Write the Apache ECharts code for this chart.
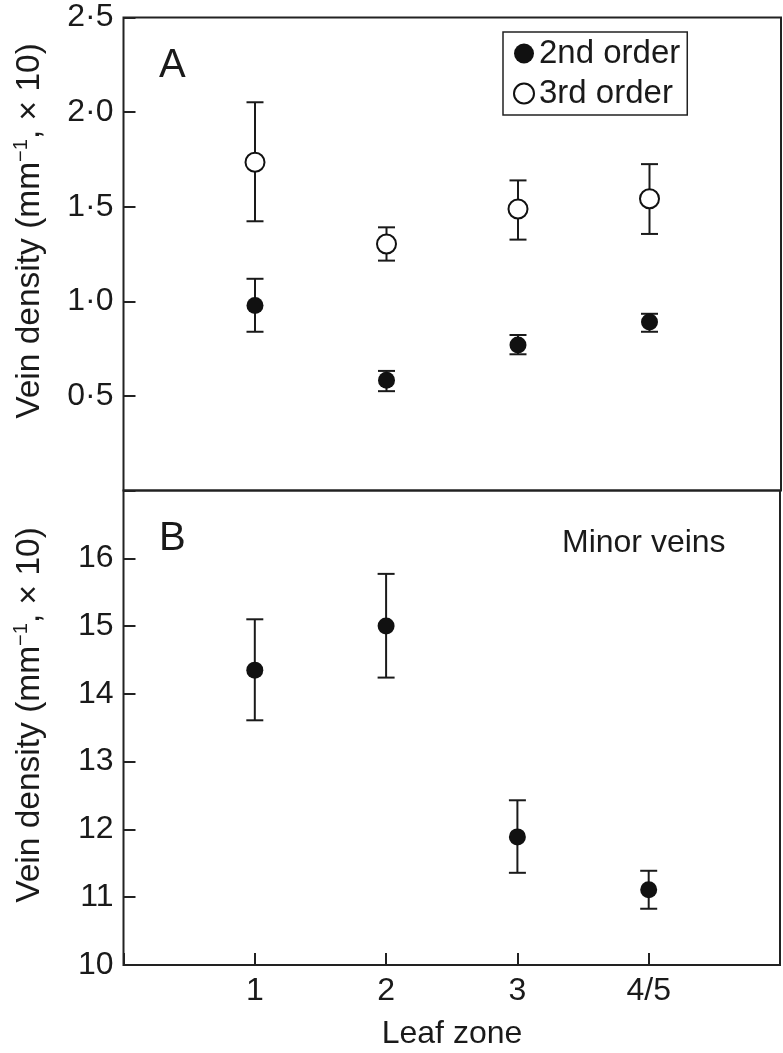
<!DOCTYPE html>
<html><head><meta charset="utf-8">
<script src="https://cdn.jsdelivr.net/npm/echarts@6/dist/echarts.min.js"></script>
<style>html,body{margin:0;padding:0;background:#fff}#c{width:783px;height:1053px}</style>
</head><body><div id="c"></div>
<script>
// ---- data ----
const zones = ['1', '2', '3', '4/5'];
const zonePos = [1, 2, 3, 4];
const second = [0.978, 0.583, 0.769, 0.890];
const secondLow = [0.839, 0.525, 0.720, 0.839];
const secondHigh = [1.119, 0.632, 0.822, 0.934];
const third = [1.735, 1.303, 1.488, 1.542];
const thirdLow = [1.423, 1.215, 1.326, 1.356];
const thirdHigh = [2.052, 1.391, 1.639, 1.725];
const minor = [14.35, 15.0, 11.89, 11.11];
const minorLow = [13.61, 14.24, 11.36, 10.83];
const minorHigh = [15.10, 15.77, 12.43, 11.39];

const FONT = '"Liberation Sans", Arial, Helvetica, sans-serif';
const INK = '#1a1a1a';
const LINE = '#222';

const chart = echarts.init(document.getElementById('c'), null, {renderer: 'canvas'});

function errRender(params, api) {
  const x = api.value(0), lo = api.value(1), hi = api.value(2);
  const p1 = api.coord([x, hi]), p2 = api.coord([x, lo]);
  const hw = 8.5;
  const st = {stroke: INK, lineWidth: 2};
  return {type: 'group', children: [
    {type: 'line', shape: {x1: p1[0], y1: p1[1], x2: p2[0], y2: p2[1]}, style: st},
    {type: 'line', shape: {x1: p1[0] - hw, y1: p1[1], x2: p1[0] + hw, y2: p1[1]}, style: st},
    {type: 'line', shape: {x1: p2[0] - hw, y1: p2[1], x2: p2[0] + hw, y2: p2[1]}, style: st}
  ]};
}

const pts = (vals) => vals.map((v, i) => [zonePos[i], v]);
const errs = (lo, hi) => lo.map((v, i) => [zonePos[i], v, hi[i]]);

const tickStyle = {show: true, inside: true, length: 12, lineStyle: {color: LINE, width: 2}};
const labelStyle = {color: INK, fontSize: 32, fontFamily: FONT};

const yName = 'Vein density (mm{sup|−1}, × 10)';
const richName = {sup: {fontSize: 20, fontFamily: FONT, fill: INK, color: INK, verticalAlign: 'top', lineHeight: 21}};

chart.setOption({
  animation: false,
  backgroundColor: '#fff',
  grid: [
    {left: 123.5, top: 17.5, width: 657.5, height: 473, show: true, borderColor: LINE, borderWidth: 2, backgroundColor: 'transparent'},
    {left: 123.5, top: 490.5, width: 657.5, height: 474.5, show: true, borderColor: LINE, borderWidth: 2, backgroundColor: 'transparent'}
  ],
  xAxis: [
    {type: 'value', gridIndex: 0, min: 0, max: 5, interval: 1, axisLine: {show: false}, axisTick: {show: false}, axisLabel: {show: false}, splitLine: {show: false}},
    {type: 'value', gridIndex: 1, min: 0, max: 5, interval: 1, axisLine: {show: false}, axisTick: tickStyle, splitLine: {show: false},
      axisLabel: Object.assign({margin: 10, formatter: v => zones[zonePos.indexOf(v)] || ''}, labelStyle)}
  ],
  yAxis: [
    {type: 'value', gridIndex: 0, min: 0, max: 2.5, interval: 0.5, axisLine: {show: false}, axisTick: tickStyle, splitLine: {show: false},
      axisLabel: Object.assign({margin: 10, showMaxLabel: true, formatter: v => v === 0 ? '' : v.toFixed(1).replace('.', '·')}, labelStyle)},
    {type: 'value', gridIndex: 1, min: 10, max: 17, interval: 1, axisLine: {show: false}, axisTick: tickStyle, splitLine: {show: false},
      axisLabel: Object.assign({margin: 10, formatter: v => v === 17 ? '' : String(v)}, labelStyle)}
  ],
  legend: {
    data: ['2nd order', '3rd order'],
    orient: 'vertical', left: 503, top: 32,
    borderColor: LINE, borderWidth: 1.5, borderRadius: 0,
    padding: [5, 7, 5, 10], itemGap: 7, itemWidth: 20, itemHeight: 20,
    textStyle: {color: INK, fontSize: 33, fontFamily: FONT, lineHeight: 32},
    selectedMode: false
  },
  series: [
    {type: 'custom', name: 'err2', xAxisIndex: 0, yAxisIndex: 0, renderItem: errRender, encode: {x: 0, y: [1, 2]}, data: errs(secondLow, secondHigh), z: 1, silent: true},
    {type: 'custom', name: 'err3', xAxisIndex: 0, yAxisIndex: 0, renderItem: errRender, encode: {x: 0, y: [1, 2]}, data: errs(thirdLow, thirdHigh), z: 1, silent: true},
    {type: 'custom', name: 'errM', xAxisIndex: 1, yAxisIndex: 1, renderItem: errRender, encode: {x: 0, y: [1, 2]}, data: errs(minorLow, minorHigh), z: 1, silent: true},
    {type: 'scatter', name: '2nd order', xAxisIndex: 0, yAxisIndex: 0, symbol: 'circle', symbolSize: 17, data: pts(second), itemStyle: {color: '#111', opacity: 1}, z: 3},
    {type: 'scatter', name: '3rd order', xAxisIndex: 0, yAxisIndex: 0, symbol: 'circle', symbolSize: 19, data: pts(third), itemStyle: {color: '#fff', borderColor: '#111', borderWidth: 2, opacity: 1}, z: 3},
    {type: 'scatter', name: 'Minor veins', xAxisIndex: 1, yAxisIndex: 1, symbol: 'circle', symbolSize: 17, data: pts(minor), itemStyle: {color: '#111', opacity: 1}, z: 3}
  ],
  graphic: [
    {type: 'text', x: 30, y: 231, rotation: Math.PI / 2, style: {text: yName, rich: richName, fill: INK, fontSize: 33.5, fontFamily: FONT, lineHeight: 38, align: 'center', verticalAlign: 'middle'}},
    {type: 'text', x: 30, y: 715, rotation: Math.PI / 2, style: {text: yName, rich: richName, fill: INK, fontSize: 33.5, fontFamily: FONT, lineHeight: 38, align: 'center', verticalAlign: 'middle'}},
    {type: 'text', x: 452, y: 1034, style: {text: 'Leaf zone', fill: INK, fontSize: 32, fontFamily: FONT, align: 'center', verticalAlign: 'middle'}},
    {type: 'text', x: 159, y: 66, style: {text: 'A', fill: INK, fontSize: 40, fontFamily: FONT, align: 'left', verticalAlign: 'middle'}},
    {type: 'text', x: 159, y: 539, style: {text: 'B', fill: INK, fontSize: 40, fontFamily: FONT, align: 'left', verticalAlign: 'middle'}},
    {type: 'text', x: 562, y: 543, style: {text: 'Minor veins', fill: INK, fontSize: 32, fontFamily: FONT, align: 'left', verticalAlign: 'middle'}}
  ]
});
</script></body></html>
